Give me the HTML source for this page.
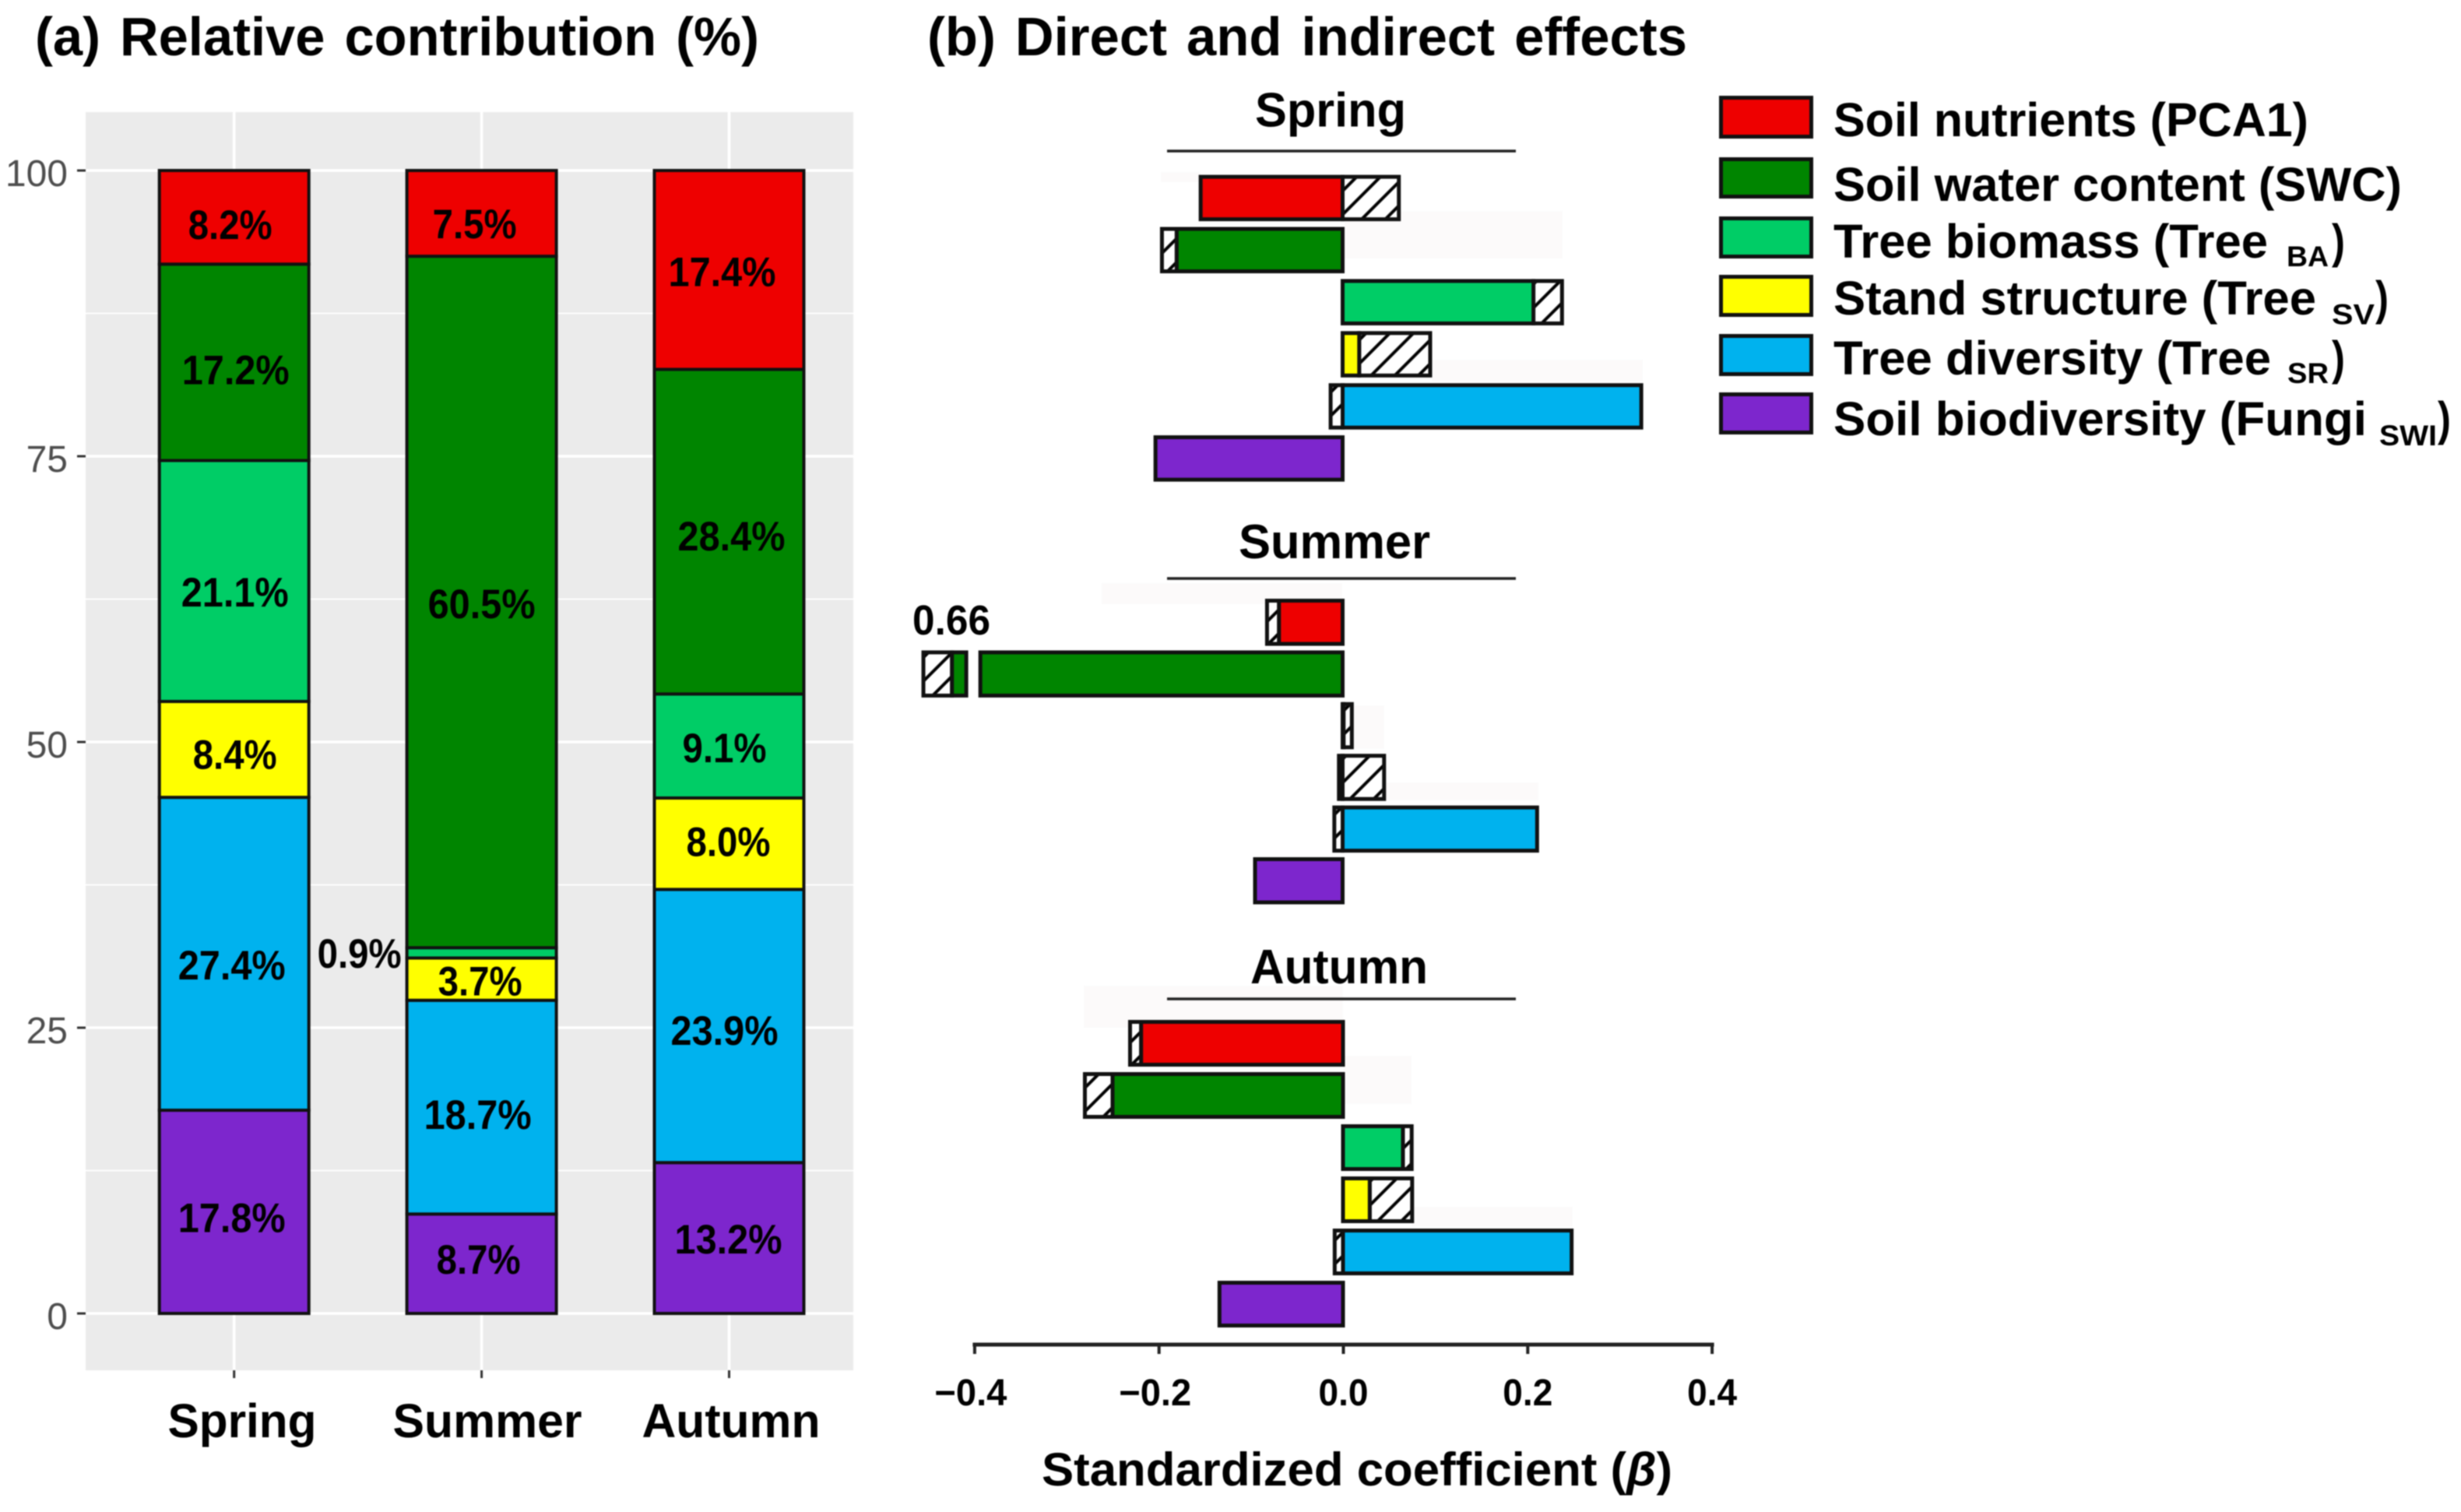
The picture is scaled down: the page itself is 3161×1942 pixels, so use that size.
<!DOCTYPE html>
<html lang="en">
<head>
<meta charset="utf-8">
<title>Relative contribution and effects on soil and tree factors</title>
<style>
  html, body { margin: 0; padding: 0; background: #ffffff; }
  svg { display: block; filter: blur(0.7px); }
  text { font-family: "Liberation Sans", "DejaVu Sans", sans-serif; }
  .b { font-weight: bold; fill: #000; }
  .title { word-spacing: 6px; }
</style>
</head>
<body>
<svg id="figure" xmlns="http://www.w3.org/2000/svg" width="3161" height="1942" viewBox="0 0 3161 1942">
  <defs>
    <pattern id="hatch" width="21.5" height="21.5" patternUnits="userSpaceOnUse" patternTransform="rotate(45)">
      <rect width="21.5" height="21.5" fill="#ffffff"></rect>
      <rect x="14.8" y="0" width="4" height="21.5" fill="#000000"></rect>
    </pattern>
  </defs>
  <rect width="3161" height="1942" fill="#ffffff"></rect>

  <text class="b title" x="45" y="71" font-size="70" textLength="930" lengthAdjust="spacingAndGlyphs">(a) Relative contribution (%)</text>
  <text class="b title" x="1191" y="71" font-size="70" textLength="976" lengthAdjust="spacingAndGlyphs">(b) Direct and indirect effects</text>

  <rect x="110" y="144" width="986" height="1616" fill="#ebebeb"></rect>
  <g id="panel-a"></g>
  <g id="panel-b"></g>

  <text class="b" x="1338" y="1908" font-size="60" textLength="810" lengthAdjust="spacingAndGlyphs">Standardized coefficient (<tspan font-style="italic">β</tspan>)</text>

  <g>
    <g>
      <rect x="2210.5" y="125.5" width="116" height="50" fill="#ee0000" stroke="#111" stroke-width="5"></rect>
      <text class="b" x="2355" y="175" font-size="61" textLength="610" lengthAdjust="spacingAndGlyphs">Soil nutrients (PCA1)</text>
    </g>
    <g>
      <rect x="2210.5" y="204.5" width="116" height="48" fill="#008500" stroke="#111" stroke-width="5"></rect>
      <text class="b" x="2355" y="258" font-size="61" textLength="730" lengthAdjust="spacingAndGlyphs">Soil water content (SWC)</text>
    </g>
    <g>
      <rect x="2210.5" y="280.5" width="116" height="49" fill="#00cd66" stroke="#111" stroke-width="5"></rect>
      <text class="b" font-size="61"><tspan x="2355" y="331" textLength="558" lengthAdjust="spacingAndGlyphs">Tree biomass (Tree</tspan><tspan x="2937" y="342" font-size="37" textLength="54" lengthAdjust="spacingAndGlyphs">BA</tspan><tspan x="2995" y="331" textLength="17" lengthAdjust="spacingAndGlyphs">)</tspan></text>
    </g>
    <g>
      <rect x="2210.5" y="355.5" width="116" height="49" fill="#ffff00" stroke="#111" stroke-width="5"></rect>
      <text class="b" font-size="61"><tspan x="2355" y="404" textLength="620" lengthAdjust="spacingAndGlyphs">Stand structure (Tree</tspan><tspan x="2995" y="416.5" font-size="37" textLength="55" lengthAdjust="spacingAndGlyphs">SV</tspan><tspan x="3051" y="404" textLength="17" lengthAdjust="spacingAndGlyphs">)</tspan></text>
    </g>
    <g>
      <rect x="2210.5" y="431.5" width="116" height="49" fill="#00b2ee" stroke="#111" stroke-width="5"></rect>
      <text class="b" font-size="61"><tspan x="2355" y="481" textLength="562" lengthAdjust="spacingAndGlyphs">Tree diversity (Tree</tspan><tspan x="2938" y="492" font-size="37" textLength="53" lengthAdjust="spacingAndGlyphs">SR</tspan><tspan x="2995" y="481" textLength="17" lengthAdjust="spacingAndGlyphs">)</tspan></text>
    </g>
    <g>
      <rect x="2210.5" y="506.5" width="116" height="49" fill="#7d26cd" stroke="#111" stroke-width="5"></rect>
      <text class="b" font-size="61"><tspan x="2355" y="559" textLength="685" lengthAdjust="spacingAndGlyphs">Soil biodiversity (Fungi</tspan><tspan x="3056" y="572" font-size="37" textLength="74" lengthAdjust="spacingAndGlyphs">SWI</tspan><tspan x="3131" y="559" textLength="17" lengthAdjust="spacingAndGlyphs">)</tspan></text>
    </g>
  </g>
</svg>

<script>
// ---------- Panel (a) data: relative contribution (%) per season ----------
const seasons = ['Spring', 'Summer', 'Autumn'];
const seriesKeys = ['soil-nutrients', 'soil-water-content', 'tree-biomass', 'stand-structure', 'tree-diversity', 'soil-biodiversity'];
const soilNutrients = [8.2, 7.5, 17.4];
const soilWater = [17.2, 60.5, 28.4];
const treeBiomass = [21.1, 0.9, 9.1];
const standStructure = [8.4, 3.7, 8.0];
const treeDiversity = [27.4, 18.7, 23.9];
const soilBiodiversity = [17.8, 8.7, 13.2];
const yTicks = [0, 25, 50, 75, 100];
const yMinorTicks = [12.5, 37.5, 62.5, 87.5];

// ---------- Panel (b) data: standardized coefficients per predictor ----------
const directSpring = [-0.154, -0.180, 0.207, 0.018, 0.324, -0.203];
const indirectSpring = [0.061, -0.016, 0.031, 0.077, -0.013, 0];
const directSummer = [-0.069, -0.629, 0.001, -0.004, 0.211, -0.095];
const indirectSummer = [-0.013, -0.031, 0.009, 0.045, -0.009, 0];
const directAutumn = [-0.219, -0.250, 0.065, 0.029, 0.248, -0.134];
const indirectAutumn = [-0.012, -0.030, 0.0095, 0.046, -0.009, 0];
const xTicks = [-0.4, -0.2, 0, 0.2, 0.4];

// ---------- Layout and style (not data) ----------
const seriesColors = ['#ee0000', '#008500', '#00cd66', '#ffff00', '#00b2ee', '#7d26cd'];
const labelShiftX = [[-5, -9, -9], [2, 0, 3], [1, -157, -6], [1, -2, -1], [-3, -5, -6], [-3, -4, -1]];
const labelShiftY = [[9, 13, 2], [9, 2, 5], [14, 0, 2], [6, 2, -3], [14, 9, 5], [7, -6, 1]];
const seasonLabelWidths = [191, 243, 229];
const seasonLabelCentres = [311, 626, 939];
const facetLayouts = [
  { name: 'spring', top: 224.6, pitch: 66.9, height: 59.5, zero: 1724.5, titleX: 1612, titleW: 194, titleY: 162.5, ruleY: 194, direct: directSpring, indirect: indirectSpring },
  { name: 'summer', top: 769, pitch: 66.4, height: 60.5, zero: 1724.5, titleX: 1591, titleW: 246, titleY: 717, ruleY: 743, direct: directSummer, indirect: indirectSummer },
  { name: 'autumn', top: 1310, pitch: 67, height: 60, zero: 1725, titleX: 1606, titleW: 228, titleY: 1263, ruleY: 1283, direct: directAutumn, indirect: indirectAutumn }
];
const ghostPatches = [
  [1491, 221, 51, 13], [1727, 271, 280, 61], [1839, 462, 271, 28],
  [1415, 749, 309, 27], [1740, 906, 38, 56], [1778, 1005, 198, 23],
  [1392, 1266, 333, 54], [1725, 1356, 88, 62], [1813, 1550, 207, 26]
];

const SVGNS = 'http://www.w3.org/2000/svg';
function make(tag, attrs, parent, content) {
  const node = document.createElementNS(SVGNS, tag);
  for (const key in attrs) node.setAttribute(key, attrs[key]);
  if (content !== undefined) node.textContent = content;
  parent.appendChild(node);
  return node;
}

// ---------- Panel (a) ----------
const panelA = document.getElementById('panel-a');
const yScale = v => 1687 - 14.68 * v;
const barCentre = i => 300.7 + 317.9 * i;
const BAR_WIDTH = 192;
const PANEL_LEFT = 110, PANEL_RIGHT = 1096, PANEL_TOP = 144, PANEL_BOTTOM = 1760;

yMinorTicks.forEach(t => {
  const line = make('line', { x1: PANEL_LEFT, x2: PANEL_RIGHT, y1: yScale(t), y2: yScale(t), stroke: '#ffffff', 'stroke-width': 1.8 }, panelA);
  
  
});
yTicks.forEach(t => {
  const grid = make('line', { x1: PANEL_LEFT, x2: PANEL_RIGHT, y1: yScale(t), y2: yScale(t), stroke: '#ffffff', 'stroke-width': 3.6 }, panelA);
  
  
  const tick = make('line', { x1: 99, x2: PANEL_LEFT, y1: yScale(t), y2: yScale(t), stroke: '#333333', 'stroke-width': 3 }, panelA);
  
  
  const label = make('text', { x: 87, y: yScale(t) + 20, 'text-anchor': 'end', 'font-size': 48, fill: '#4d4d4d' }, panelA, String(t));
  
  
});
seasons.forEach((season, i) => {
  const grid = make('line', { x1: barCentre(i), x2: barCentre(i), y1: PANEL_TOP, y2: PANEL_BOTTOM, stroke: '#ffffff', 'stroke-width': 3.6 }, panelA);
  
  
  const tick = make('line', { x1: barCentre(i), x2: barCentre(i), y1: PANEL_BOTTOM, y2: 1770, stroke: '#333333', 'stroke-width': 3 }, panelA);
  
  
  const label = make('text', { class: 'b', x: seasonLabelCentres[i], y: 1846, 'text-anchor': 'middle', 'font-size': 61, textLength: seasonLabelWidths[i], lengthAdjust: 'spacingAndGlyphs' }, panelA, season);
  
  
});

const stackSeries = [soilNutrients, soilWater, treeBiomass, standStructure, treeDiversity, soilBiodiversity];
seasons.forEach((season, col) => {
  const total = stackSeries.reduce((sum, s) => sum + s[col], 0);
  let cum = 0;
  const stack = [];
  for (let s = stackSeries.length - 1; s >= 0; s--) {
    const share = stackSeries[s][col] * 100 / total;
    stack.push({ s: s, lo: cum, hi: cum + share });
    cum += share;
  }
  stack.forEach(seg => {
    const y1 = yScale(seg.hi), y0 = yScale(seg.lo);
    const rect = make('rect', { x: barCentre(col) - BAR_WIDTH / 2, y: y1, width: BAR_WIDTH, height: y0 - y1, fill: seriesColors[seg.s], stroke: '#111111', 'stroke-width': 4 }, panelA);
    
    
  });
  stack.forEach(seg => {
    const yc = (yScale(seg.hi) + yScale(seg.lo)) / 2;
    const value = stackSeries[seg.s][col];
    const label = make('text', { class: 'b', x: barCentre(col) + labelShiftX[seg.s][col], y: yc + labelShiftY[seg.s][col] + 19, 'text-anchor': 'middle', 'font-size': 53, textLength: value >= 10 ? 138 : 108, lengthAdjust: 'spacingAndGlyphs' }, panelA, value.toFixed(1) + '%');
    
    
  });
});

// ---------- Panel (b) ----------
const panelB = document.getElementById('panel-b');
const UNIT = 1184;
const BREAK_NEAR = -0.393, BREAK_FAR = -0.6135, BREAK_SHIFT = 243;
const xAxisScale = v => 1725.5 + UNIT * v;
function xScale(v, zero) {
  const x = zero + UNIT * v;
  return v <= BREAK_FAR ? x + BREAK_SHIFT : x;
}

ghostPatches.forEach(p => {
  const ghost = make('rect', { x: p[0], y: p[1], width: p[2], height: p[3], fill: '#fcfafa' }, panelB);
  
  
});

function drawSpan(a, b, zero, y, h, fill, name) {
  const lo = Math.min(a, b), hi = Math.max(a, b);
  const spans = (lo < BREAK_FAR && hi > BREAK_NEAR) ? [[lo, BREAK_FAR], [BREAK_NEAR, hi]] : [[lo, hi]];
  spans.forEach(sp => {
    const x0 = xScale(sp[0], zero), x1 = xScale(sp[1], zero);
    const rect = make('rect', { x: x0, y: y, width: Math.max(x1 - x0, 0.5), height: h, fill: fill, stroke: '#111111', 'stroke-width': 5 }, panelB);
    
    
  });
}

facetLayouts.forEach(f => {
  const title = make('text', { class: 'b', x: f.titleX, y: f.titleY, 'font-size': 62, textLength: f.titleW, lengthAdjust: 'spacingAndGlyphs' }, panelB, f.name[0].toUpperCase() + f.name.slice(1));
  
  
  const rule = make('line', { x1: 1499, x2: 1947, y1: f.ruleY, y2: f.ruleY, stroke: '#222222', 'stroke-width': 3.6 }, panelB);
  
  

  f.direct.forEach((d, r) => {
    const ind = f.indirect[r];
    const y = f.top + r * f.pitch + 2.5;
    const h = f.height - 5;
    const sameSign = d * ind > 0;
    const hatchFrom = sameSign ? d : 0;
    if (ind !== 0) {
      drawSpan(hatchFrom, hatchFrom + ind, f.zero, y, h, 'url(#hatch)', 'indirect-bar-' + f.name + '-' + seriesKeys[r]);
    }
    drawSpan(0, d, f.zero, y, h, seriesColors[r], 'direct-bar-' + f.name + '-' + seriesKeys[r]);
    const total = d + (sameSign ? ind : 0);
    if (total < BREAK_FAR) {
      const label = make('text', { class: 'b', x: xScale(total, f.zero) + 36, y: y - 23, 'text-anchor': 'middle', 'font-size': 54, textLength: 100, lengthAdjust: 'spacingAndGlyphs' }, panelB, Math.abs(total).toFixed(2));
      
      
    }
  });
});

const axisLine = make('line', { x1: xAxisScale(xTicks[0]) - 2.5, x2: xAxisScale(xTicks[xTicks.length - 1]) + 2.5, y1: 1727, y2: 1727, stroke: '#222222', 'stroke-width': 5 }, panelB);


xTicks.forEach(t => {
  const tick = make('line', { x1: xAxisScale(t), x2: xAxisScale(t), y1: 1727, y2: 1739, stroke: '#222222', 'stroke-width': 4 }, panelB);
  
  
  const text = t.toFixed(1).replace('-', '\u2212');
  const label = make('text', { class: 'b', x: xAxisScale(t) + (t < 0 ? -5 : 0), y: 1805, 'text-anchor': 'middle', 'font-size': 48, textLength: t < 0 ? 93 : 64, lengthAdjust: 'spacingAndGlyphs' }, panelB, text);
  
  
});
</script>
</body>
</html>
